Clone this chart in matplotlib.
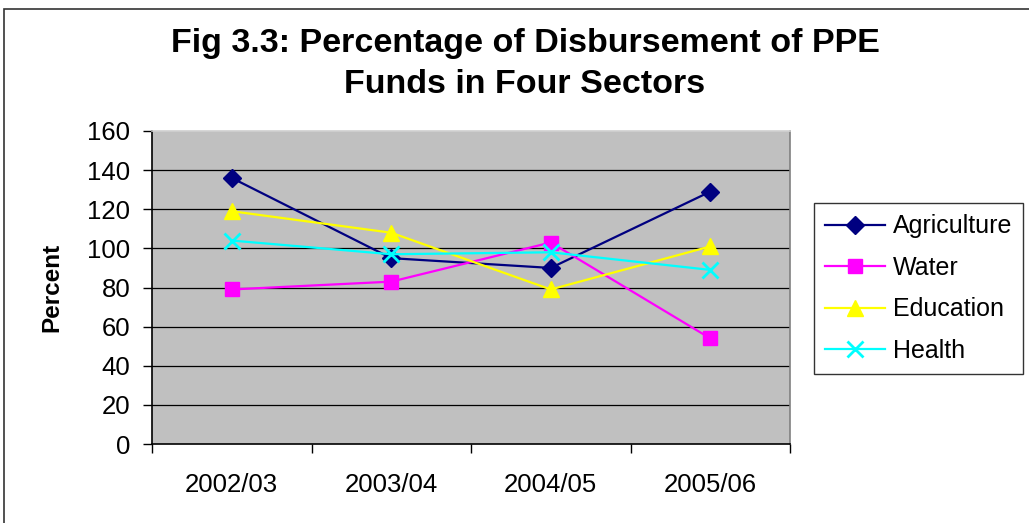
import matplotlib
matplotlib.use("Agg")
import matplotlib.pyplot as plt
from matplotlib.patches import Rectangle
import numpy as np

plt.rcParams['font.family'] = ['Liberation Sans', 'DejaVu Sans']

# ---- datos ----
years = ["2002/03", "2003/04", "2004/05", "2005/06"]
agriculture = [136, 95, 90, 129]
water = [79, 83, 103, 54]
education = [119, 108, 79, 101]
health = [104, 97, 98, 89]

series = [
    ("Agriculture", agriculture, "#000080", "D", 9),
    ("Water", water, "#FF00FF", "s", 10),
    ("Education", education, "#FFFF00", "^", 12),
    ("Health", health, "#00FFFF", "x", 11),
]

fig = plt.figure(figsize=(10.29, 5.23), dpi=100)
ax = fig.add_axes([152 / 1029, 1 - 444 / 523, 638 / 1029, 313 / 523])
ax.set_facecolor("#C0C0C0")

xs = np.arange(len(years))
for name, vals, col, mk, ms in series:
    mew = 2 if mk == "x" else 1
    ax.plot(xs, vals, color=col, lw=1.6, marker=mk, markersize=ms,
            markerfacecolor=col, markeredgecolor=col, markeredgewidth=mew,
            label=name, clip_on=False)

# ejes
ax.set_xlim(-0.5, 3.5)
ax.set_ylim(0, 160)
ax.set_yticks(np.arange(0, 161, 20))
ax.set_xticks(xs)
ax.set_xticklabels(years)
ax.set_xticks(np.arange(-0.5, 3.6, 1), minor=True)
ax.tick_params(axis="x", which="major", length=0, pad=21, labelsize=18.5)
ax.tick_params(axis="x", which="minor", length=6.5, width=1, color="black")
ax.tick_params(axis="y", length=6.5, width=1, pad=9, labelsize=18.5)
for y in range(20, 160, 20):
    ax.axhline(y, color="black", lw=0.9, zorder=0.5)

ax.spines["left"].set_color("black")
ax.spines["bottom"].set_color("black")
ax.spines["top"].set_color("#D0D0D0")
ax.spines["right"].set_color("#808080")
for s in ax.spines.values():
    s.set_linewidth(1.2)

ax.set_ylabel("Percent", fontsize=17.5, fontweight="bold", labelpad=17)

fig.text(525 / 1029, 1 - 64 / 523,
         "Fig 3.3: Percentage of Disbursement of PPE\nFunds in Four Sectors",
         ha="center", va="center", fontsize=24.5, fontweight="bold",
         linespacing=1.4)

leg = fig.legend(loc="upper left", bbox_to_anchor=(814 / 1029, 1 - 203 / 523),
                 fontsize=18, frameon=True, fancybox=False, edgecolor="black",
                 handlelength=2.4, handletextpad=0.3, labelspacing=0.7,
                 borderpad=0.45, borderaxespad=0)
leg.get_frame().set_linewidth(1.0)

# marco exterior
fig.patches.append(Rectangle((4 / 1029, -0.1), 1.2, 1.1 - 9 / 523,
                             transform=fig.transFigure, fill=False,
                             edgecolor="#333333", lw=1.2))

fig.savefig("out.png", dpi=100)
